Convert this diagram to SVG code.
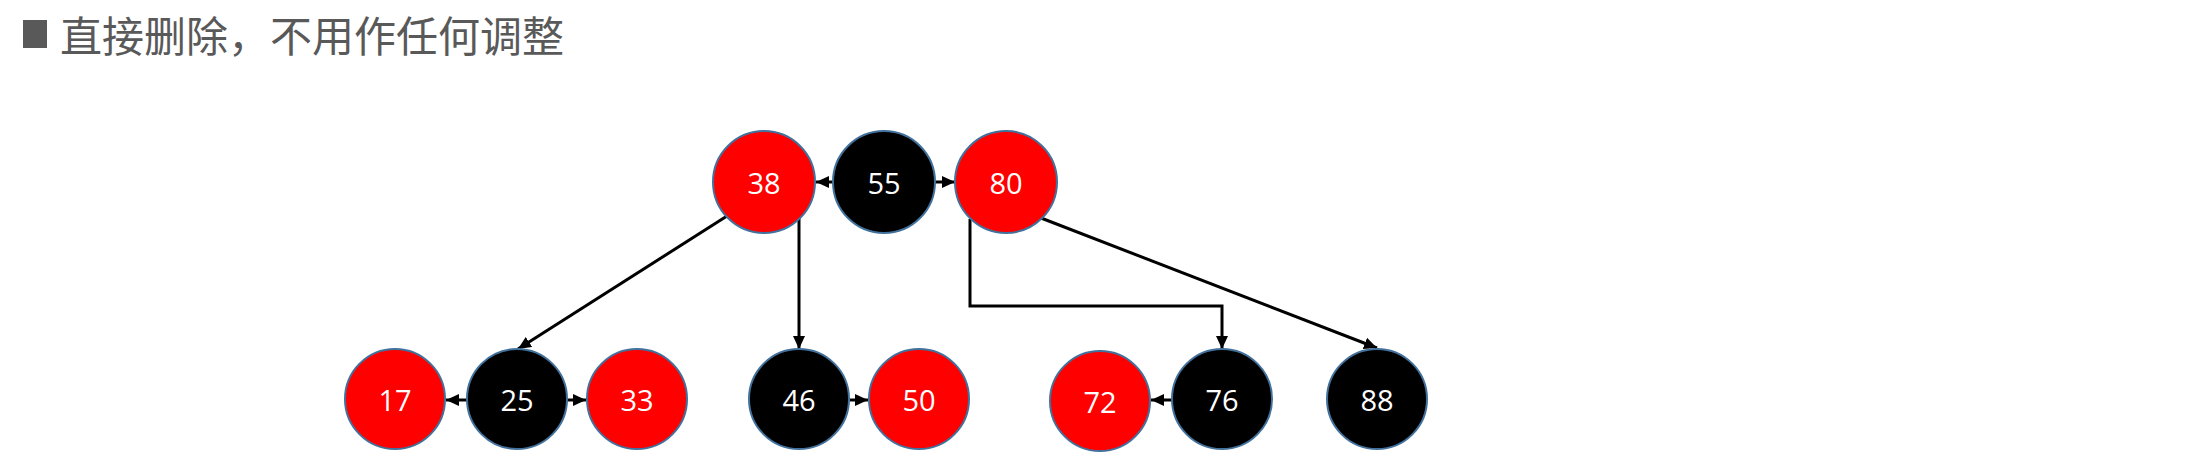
<svg xmlns="http://www.w3.org/2000/svg" width="2206" height="462" viewBox="0 0 2206 462">
<style>
.title{font-family:"Noto Sans CJK SC","Noto Sans",sans-serif;font-size:42px;fill:#595959}
.red{fill:#FF0000;stroke:#41719C;stroke-width:2}
.blk{fill:#000000;stroke:#41719C;stroke-width:2}
.lbl{font-family:"Open Sans","Noto Sans",sans-serif;font-size:29px;fill:#FFFFFF;text-anchor:middle;dominant-baseline:central}
.edge{fill:none;stroke:#000000;stroke-width:3}
</style>
<defs>
<marker id="ah" markerUnits="userSpaceOnUse" markerWidth="14" markerHeight="14" viewBox="0 0 14 14" refX="13" refY="7" orient="auto">
<path d="M0,1 L13,7 L0,13 Z" fill="#000000"/>
</marker>
</defs>
<rect width="2206" height="462" fill="#FFFFFF"/>
<g id="title">
<rect x="23" y="20" width="24" height="28" fill="#595959"/>
<text class="title" x="60" y="52">直接删除，不用作任何调整</text>
</g>
<g id="connectors">
<line class="edge" x1="834" y1="182" x2="816" y2="182" marker-end="url(#ah)"/>
<line class="edge" x1="934" y1="182" x2="955" y2="182" marker-end="url(#ah)"/>
<line class="edge" x1="727" y1="216" x2="518" y2="349" marker-end="url(#ah)"/>
<line class="edge" x1="799" y1="216" x2="799" y2="349" marker-end="url(#ah)"/>
<polyline class="edge" points="970,219 970,306 1222,306 1222,349" marker-end="url(#ah)"/>
<line class="edge" x1="1041" y1="218" x2="1377" y2="348" marker-end="url(#ah)"/>
<line class="edge" x1="467" y1="400" x2="446" y2="400" marker-end="url(#ah)"/>
<line class="edge" x1="567" y1="400" x2="586" y2="400" marker-end="url(#ah)"/>
<line class="edge" x1="850" y1="400" x2="868" y2="400" marker-end="url(#ah)"/>
<line class="edge" x1="1172" y1="400" x2="1151" y2="400" marker-end="url(#ah)"/>
</g>
<g id="n38"><circle class="red" cx="764" cy="182" r="51"/><text class="lbl" x="764" y="182">38</text></g>
<g id="n55"><circle class="blk" cx="884" cy="182" r="51"/><text class="lbl" x="884" y="182">55</text></g>
<g id="n80"><circle class="red" cx="1006" cy="182" r="51"/><text class="lbl" x="1006" y="182">80</text></g>
<g id="n17"><circle class="red" cx="395" cy="399" r="50"/><text class="lbl" x="395" y="399">17</text></g>
<g id="n25"><circle class="blk" cx="517" cy="399" r="50"/><text class="lbl" x="517" y="399">25</text></g>
<g id="n33"><circle class="red" cx="637" cy="399" r="50"/><text class="lbl" x="637" y="399">33</text></g>
<g id="n46"><circle class="blk" cx="799" cy="399" r="50"/><text class="lbl" x="799" y="399">46</text></g>
<g id="n50"><circle class="red" cx="919" cy="399" r="50"/><text class="lbl" x="919" y="399">50</text></g>
<g id="n72"><circle class="red" cx="1100" cy="401" r="50"/><text class="lbl" x="1100" y="401">72</text></g>
<g id="n76"><circle class="blk" cx="1222" cy="399" r="50"/><text class="lbl" x="1222" y="399">76</text></g>
<g id="n88"><circle class="blk" cx="1377" cy="399" r="50"/><text class="lbl" x="1377" y="399">88</text></g>
</svg>
